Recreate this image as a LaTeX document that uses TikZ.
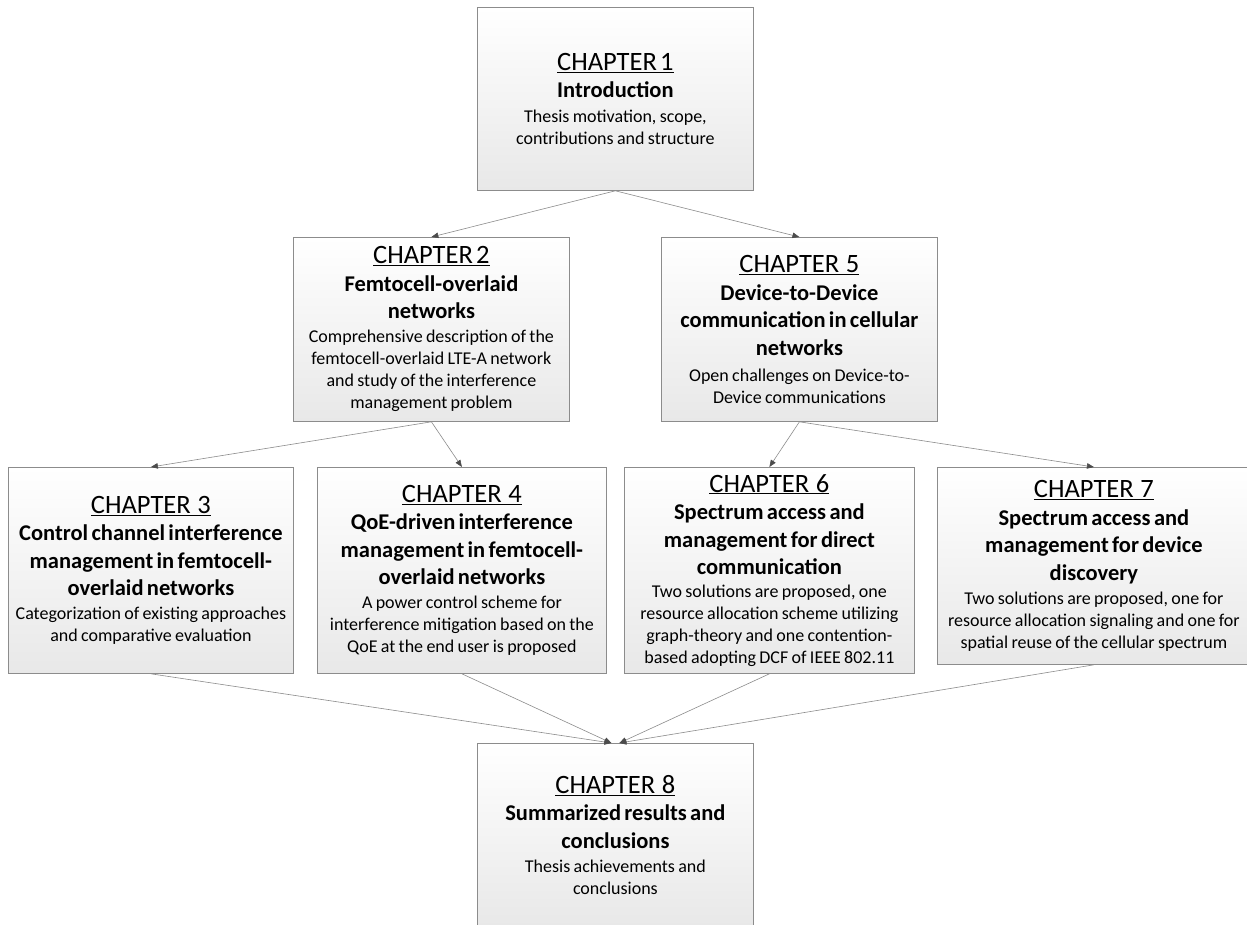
\documentclass[tikz,border=0pt]{standalone}
\usepackage{fontspec}
\setmainfont{Carlito}
\usepackage{tikz}
\usetikzlibrary{arrows.meta, positioning}

\newcommand{\hdfont}{\fontsize{26.5}{30}\selectfont}
\newcommand{\ttlfont}{\fontsize{22.5}{27.5}\selectfont\bfseries}
\newcommand{\bdfont}{\fontsize{18}{22}\selectfont}

\begin{document}
\begin{tikzpicture}[x=1pt, y=-1pt]
    	\tikzstyle{chap}=[draw=black!45,line width=0.8pt,top color=white,bottom color=black!9,align=center,inner xsep=1pt,inner ysep=0pt,anchor=north west]
    	\tikzstyle{con}=[draw=black!45,line width=0.6pt,-{Triangle[length=7pt,width=5.5pt,color=black!70]}]
    \fill[white] (0,0) rectangle (1247,924);
    \useasboundingbox (0,0) rectangle (1247,924);
    \node[chap,text width=274pt,minimum height=183pt] (ch1) at (477,7) {{\hdfont\underline{CHAPTER 1}\par}{\ttlfont Introduction\par}{\bdfont\vspace{3pt}Thesis motivation, scope,\\ contributions and structure\par}};
    \node[chap,text width=274pt,minimum height=184pt] (ch2) at (293,237) {{\hdfont\underline{CHAPTER 2}\par}{\ttlfont Femtocell-overlaid\\ networks\par}{\bdfont\vspace{2pt}Comprehensive description of the\\ femtocell-overlaid LTE-A network\\ and study of the interference\\ management problem\par}};
    \node[chap,text width=274pt,minimum height=184pt] (ch5) at (661,237) {{\hdfont\underline{CHAPTER~~5}\par}{\ttlfont Device-to-Device\\ communication in cellular\\ networks\par}{\bdfont\vspace{4pt}Open challenges on Device-to-\\ Device communications\par}};
    \node[chap,text width=283pt,minimum height=206pt] (ch3) at (8,467) {{\hdfont\underline{CHAPTER~~3}\par}{\ttlfont Control channel interference\\ management in femtocell-\\ overlaid networks\par}{\bdfont\vspace{2pt}Categorization of existing approaches\\ and comparative evaluation\par}};
    \node[chap,text width=287pt,minimum height=206pt] (ch4) at (317,467) {{\hdfont\underline{CHAPTER~~4}\par}{\ttlfont QoE-driven interference\\ management in femtocell-\\ overlaid networks\par}{\bdfont\vspace{2pt}A power control scheme for\\ interference mitigation based on the\\ QoE at the end user is proposed\par}};
    \node[chap,text width=288pt,minimum height=206pt] (ch6) at (624,467) {{\hdfont\underline{CHAPTER~~6}\par}{\ttlfont Spectrum access and\\ management for direct\\ communication\par}{\bdfont\vspace{1pt}Two solutions are proposed, one\\ resource allocation scheme utilizing\\ graph-theory and one contention-\\ based adopting DCF of IEEE 802.11\par}};
    \node[chap,text width=311pt,minimum height=197pt] (ch7) at (937,467) {{\hdfont\underline{CHAPTER~~7}\par}{\ttlfont Spectrum access and\\ management for device\\ discovery\par}{\bdfont\vspace{2pt}Two solutions are proposed, one for\\ resource allocation signaling and one for\\ spatial reuse of the cellular spectrum\par}};
    \node[chap,text width=274pt,minimum height=183pt] (ch8) at (477,743) {{\hdfont\underline{CHAPTER~~8}\par}{\ttlfont Summarized results and\\ conclusions\par}{\bdfont\vspace{2pt}Thesis achievements and\\ conclusions\par}};
    \draw[con] (ch1.south) -- (ch2.north);
    \draw[con] (ch1.south) -- (ch5.north);
    \draw[con] (ch2.south) -- (ch3.north);
    \draw[con] (ch2.south) -- (ch4.north);
    \draw[con] (ch5.south) -- (ch6.north);
    \draw[con] (ch5.south) -- (ch7.north);
    \draw[con] (ch3.south) -- ([xshift=-4pt]ch8.north);
    \draw[con] (ch4.south) -- ([xshift=-4pt]ch8.north);
    \draw[con] (ch6.south) -- ([xshift=4pt]ch8.north);
    \draw[con] (ch7.south) -- ([xshift=4pt]ch8.north);
  \end{tikzpicture}
\end{document}
